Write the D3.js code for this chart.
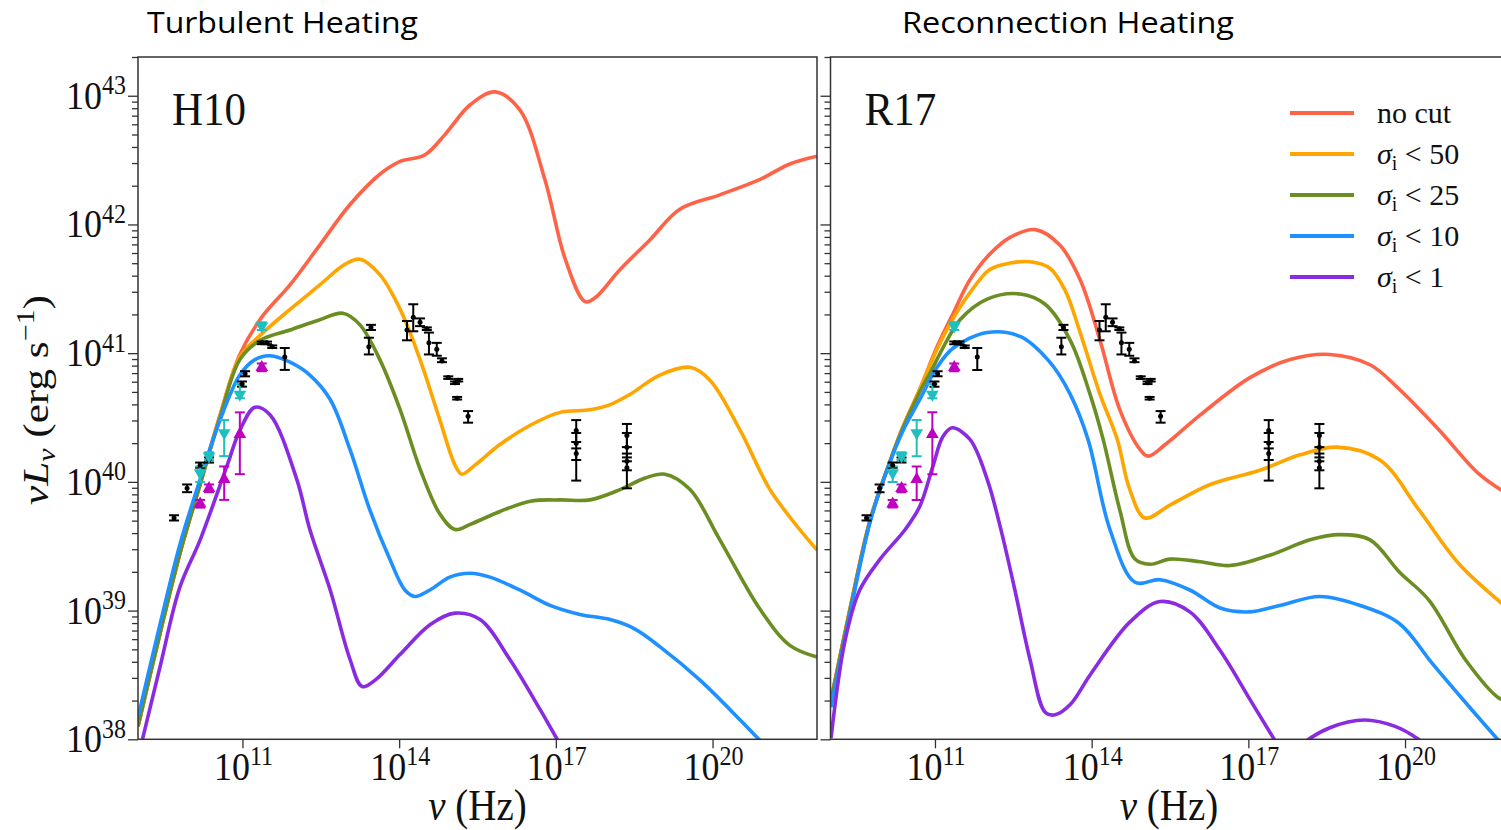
<!DOCTYPE html>
<html>
<head>
<meta charset="utf-8">
<script src="https://cdn.jsdelivr.net/npm/d3@7"></script>
<style>
  body { margin: 0; background: #fff; }
  svg { display: block; }
</style>
</head>
<body>
<script>
// values are [log10 nu (Hz), log10 nuL_nu (erg/s)]

// H10 (turbulent heating)
var h10NoCut = [[9.00,38.10],[9.42,38.82],[9.80,39.44],[10.19,39.99],[10.57,40.52],[10.95,40.99],[11.37,41.28],[11.91,41.53],[12.48,41.84],[13.06,42.155],[13.63,42.39],[14.02,42.49],[14.49,42.54],[14.88,42.70],[15.36,42.93],[15.84,43.03],[16.31,42.89],[16.79,42.35],[17.18,41.73],[17.56,41.40],[17.75,41.43],[18.23,41.65],[18.80,41.88],[19.38,42.12],[20.14,42.23],[20.91,42.35],[21.48,42.47],[22.00,42.53]];
var h10Sig50 = [[9.00,38.10],[9.42,38.82],[9.80,39.44],[10.19,39.98],[10.57,40.51],[10.95,40.97],[11.37,41.15],[11.91,41.34],[12.48,41.53],[12.96,41.69],[13.25,41.73],[13.63,41.61],[14.02,41.34],[14.40,40.95],[14.78,40.48],[15.07,40.13],[15.20,40.06],[15.45,40.13],[15.93,40.29],[16.51,40.44],[17.08,40.54],[17.65,40.56],[18.04,40.60],[18.42,40.68],[18.99,40.83],[19.57,40.89],[19.95,40.79],[20.53,40.40],[21.10,39.94],[21.67,39.63],[22.00,39.47]];
var h10Sig25 = [[9.00,38.10],[9.42,38.82],[9.80,39.44],[10.19,39.98],[10.57,40.50],[10.95,40.95],[11.34,41.10],[11.91,41.18],[12.48,41.26],[12.92,41.31],[13.25,41.22],[13.63,40.95],[14.02,40.56],[14.40,40.10],[14.78,39.75],[15.07,39.63],[15.36,39.67],[15.93,39.77],[16.51,39.85],[17.08,39.86],[17.65,39.86],[18.23,39.94],[18.71,40.03],[19.09,40.06],[19.57,39.94],[20.14,39.55],[20.91,39.01],[21.48,38.73],[22.00,38.64]];
var h10Sig10 = [[9.00,38.17],[9.42,38.89],[9.80,39.51],[10.19,40.02],[10.57,40.48],[10.95,40.83],[11.24,40.95],[11.53,40.98],[11.91,40.93],[12.29,40.83],[12.68,40.64],[13.06,40.25],[13.44,39.78],[13.82,39.40],[14.11,39.16],[14.30,39.11],[14.59,39.16],[14.97,39.26],[15.36,39.29],[15.74,39.26],[16.31,39.16],[16.89,39.04],[17.46,38.97],[18.04,38.93],[18.50,38.86],[18.99,38.72],[19.76,38.46],[20.53,38.15],[20.91,37.99],[21.29,37.84]];
var h10Sig1 = [[9.08,37.99],[9.42,38.56],[9.80,39.18],[10.19,39.55],[10.70,40.12],[10.95,40.40],[11.24,40.58],[11.53,40.52],[12.04,40.02],[12.29,39.63],[12.68,39.16],[13.06,38.62],[13.29,38.41],[13.54,38.46],[14.02,38.66],[14.59,38.89],[15.07,38.98],[15.55,38.93],[16.12,38.62],[16.70,38.23],[17.04,37.99],[17.27,37.84]];

// R17 (reconnection heating)
var r17NoCut = [[9.01,38.31],[9.37,39.01],[9.76,39.71],[10.14,40.16],[10.39,40.43],[10.71,40.72],[11.04,41.05],[11.35,41.31],[11.67,41.57],[12.05,41.77],[12.44,41.90],[12.92,41.96],[13.39,41.84],[13.78,41.57],[14.16,41.10],[14.54,40.56],[14.93,40.25],[15.08,40.20],[15.41,40.29],[16.08,40.52],[17.03,40.81],[17.80,40.95],[18.56,40.99],[19.33,40.91],[19.89,40.72],[20.66,40.40],[21.42,40.06],[21.99,39.90]];
var r17Sig50 = [[9.01,38.30],[9.37,39.00],[9.76,39.70],[10.14,40.16],[10.39,40.43],[10.71,40.72],[11.04,41.03],[11.35,41.27],[11.67,41.47],[12.05,41.65],[12.44,41.70],[12.82,41.71],[13.20,41.66],[13.49,41.49],[13.78,41.16],[14.16,40.68],[14.49,40.33],[14.73,39.94],[15.02,39.72],[15.50,39.82],[16.27,39.98],[17.22,40.09],[17.99,40.21],[18.70,40.27],[19.52,40.17],[20.27,39.78],[21.04,39.36],[21.99,39.01]];
var r17Sig25 = [[9.01,38.30],[9.37,39.00],[9.76,39.70],[10.14,40.16],[10.39,40.42],[10.71,40.70],[10.91,40.85],[11.23,41.10],[11.48,41.26],[12.00,41.42],[12.63,41.46],[13.11,41.38],[13.59,41.10],[13.97,40.68],[14.22,40.33],[14.54,39.78],[14.83,39.40],[15.12,39.36],[15.50,39.40],[16.08,39.38],[16.65,39.35],[17.41,39.43],[18.18,39.55],[18.75,39.59],[19.33,39.55],[19.89,39.30],[20.46,39.08],[21.17,38.61],[21.80,38.32],[21.99,38.30]];
var r17Sig10 = [[9.01,38.25],[9.37,38.97],[9.76,39.69],[10.08,40.09],[10.39,40.40],[10.71,40.64],[11.04,40.89],[11.35,41.04],[12.00,41.16],[12.63,41.13],[13.20,40.93],[13.59,40.68],[13.93,40.33],[14.35,39.63],[14.83,39.22],[15.31,39.24],[15.88,39.16],[16.46,39.02],[17.03,38.99],[17.60,39.04],[18.37,39.11],[19.14,39.04],[19.89,38.90],[20.52,38.59],[21.17,38.28],[21.75,38.01],[21.99,37.90]];
var r17Sig1 = [[9.01,38.01],[9.28,38.77],[9.56,39.16],[9.95,39.40],[10.43,39.63],[10.71,39.81],[10.96,40.12],[11.15,40.35],[11.33,40.42],[11.67,40.33],[12.00,40.02],[12.25,39.65],[12.53,39.16],[12.82,38.62],[13.11,38.21],[13.30,38.19],[13.59,38.27],[13.97,38.50],[14.73,38.91],[15.31,39.07],[15.88,38.99],[16.46,38.69],[17.03,38.31],[17.51,37.99],[17.74,37.84],[17.99,37.95],[18.56,38.09],[19.23,38.15],[19.81,38.10],[20.22,38.01],[20.46,37.93]];

// observed points: [log nu, log nuLnu, log lower, log upper]
var obsBlack = [[9.69,39.72,39.70,39.74],[9.94,39.95,39.92,39.98],[10.19,40.13,40.11,40.15],[10.36,40.17,40.15,40.19],
  [10.99,40.76,40.74,40.78],[11.05,40.84,40.82,40.86],[11.37,41.08,41.07,41.09],[11.47,41.08,41.07,41.09],[11.57,41.05,41.04,41.06],
  [11.81,40.97,40.87,41.04],[13.46,41.20,41.18,41.22],[13.42,41.05,40.99,41.12],[14.15,41.18,41.10,41.25],[14.27,41.28,41.17,41.38],
  [14.40,41.24,41.21,41.27],[14.53,41.19,41.18,41.20],[14.57,41.08,40.99,41.16],[14.72,41.03,40.98,41.08],[14.82,40.94,40.93,40.96],
  [14.94,40.81,40.80,40.82],[15.07,40.77,40.76,40.78],[15.13,40.79,40.78,40.80],[15.11,40.65,40.64,40.66],[15.32,40.51,40.46,40.55],
  [17.39,40.40,40.31,40.48],[17.39,40.30,40.01,40.38],[17.39,40.22,40.17,40.26],
  [18.36,40.36,40.27,40.45],[18.36,40.27,40.19,40.38],[18.36,40.16,40.09,40.22],[18.36,40.11,39.95,40.16]];
var obsCyan = [[10.19,40.07,40.00,40.12],[10.36,40.20,40.17,40.23],[10.65,40.38,40.20,40.48],[10.95,40.68,40.65,40.76],[11.37,41.21,41.18,41.24]];
var obsMagenta = [[10.19,39.83,39.80,39.86],[10.36,39.95,39.92,39.98],[10.65,40.02,39.86,40.12],[10.95,40.37,40.06,40.54],[11.37,40.89,40.86,40.92]];

var xTickExps = [11, 14, 17, 20];
var yTickExps = [38, 39, 40, 41, 42, 43];
var legendLabels = ["no cut", "50", "25", "10", "1"];
var seriesColors = ["#ff6347", "#ffa500", "#6b8e23", "#1e90ff", "#8a2be2"];

var W = 1501, H = 830;
var yTop = 57, yBot = 739.3;

var svg = d3.select("body").append("svg")
    .attr("width", W)
    .attr("height", H)
    .style("font-family", "'Liberation Serif', 'DejaVu Serif', serif");

var panels = [
    { x0: 138, x1: 817, title: "Turbulent Heating", titleX: 147, titleW: 271, tag: "H10",
      curves: [h10NoCut, h10Sig50, h10Sig25, h10Sig10, h10Sig1], labels: true },
    { x0: 830.5, x1: 1509.5, title: "Reconnection Heating", titleX: 902, titleW: 332, tag: "R17",
      curves: [r17NoCut, r17Sig50, r17Sig25, r17Sig10, r17Sig1], labels: false }
];

// "10" with a raised exponent, stretched a bit taller like the original
function powerLabel(g, px, py, exp, anchor) {
    var t = g.append("text")
        .attr("transform", "translate(" + px + "," + py + ") scale(1,1.12)")
        .attr("text-anchor", anchor)
        .attr("font-size", 36)
        .attr("fill", "#111");
    t.append("tspan").text("10");
    t.append("tspan").attr("font-size", 24).attr("dy", -13).text(exp);
}

panels.forEach(function (p) {
    var x = d3.scaleLog().domain([1e9, 1e22]).range([p.x0, p.x1]);
    var y = d3.scaleLog().domain([1e38, 2e43]).range([yBot, yTop]);

    var clipId = "clip" + p.tag;
    svg.append("clipPath").attr("id", clipId)
        .append("rect")
        .attr("x", p.x0).attr("y", yTop)
        .attr("width", p.x1 - p.x0).attr("height", yBot - yTop);

    var plot = svg.append("g").attr("clip-path", "url(#" + clipId + ")");

    var line = d3.line()
        .x(function (d) { return x(Math.pow(10, d[0])); })
        .y(function (d) { return y(Math.pow(10, d[1])); })
        .curve(d3.curveCatmullRom.alpha(0.5));

    p.curves.forEach(function (c, i) {
        plot.append("path")
            .attr("d", line(c))
            .attr("fill", "none")
            .attr("stroke", seriesColors[i])
            .attr("stroke-width", 3.6)
            .attr("stroke-linejoin", "round");
    });

    // error bars + markers
    function errBars(data, color) {
        var gg = plot.append("g").attr("stroke", color).attr("stroke-width", 2);
        data.forEach(function (d) {
            var cx = x(Math.pow(10, d[0]));
            var lo = y(Math.pow(10, d[2])), hi = y(Math.pow(10, d[3]));
            gg.append("line").attr("x1", cx).attr("x2", cx).attr("y1", lo).attr("y2", hi);
            gg.append("line").attr("x1", cx - 5).attr("x2", cx + 5).attr("y1", lo).attr("y2", lo);
            gg.append("line").attr("x1", cx - 5).attr("x2", cx + 5).attr("y1", hi).attr("y2", hi);
        });
    }
    errBars(obsBlack, "#000");
    errBars(obsCyan, "#1fbfbf");
    errBars(obsMagenta, "#c000c0");

    plot.selectAll(".dotB").data(obsBlack).enter().append("circle")
        .attr("cx", function (d) { return x(Math.pow(10, d[0])); })
        .attr("cy", function (d) { return y(Math.pow(10, d[1])); })
        .attr("r", 2.5).attr("fill", "#000");

    var tri = d3.symbol().type(d3.symbolTriangle).size(70);
    plot.selectAll(".triC").data(obsCyan).enter().append("path")
        .attr("d", tri)
        .attr("transform", function (d) {
            return "translate(" + x(Math.pow(10, d[0])) + "," + y(Math.pow(10, d[1])) + ") rotate(180)";
        })
        .attr("fill", "#1fbfbf");
    plot.selectAll(".triM").data(obsMagenta).enter().append("path")
        .attr("d", tri)
        .attr("transform", function (d) {
            return "translate(" + x(Math.pow(10, d[0])) + "," + y(Math.pow(10, d[1])) + ")";
        })
        .attr("fill", "#c000c0");

    // frame
    svg.append("rect")
        .attr("x", p.x0).attr("y", yTop)
        .attr("width", p.x1 - p.x0).attr("height", yBot - yTop)
        .attr("fill", "none").attr("stroke", "#333").attr("stroke-width", 1.5);

    // y ticks (major + minor)
    var majors = yTickExps.map(function (e) { return Math.pow(10, e); });
    var minors = [];
    yTickExps.forEach(function (e) {
        for (var k = 2; k <= 9; k++) {
            var v = k * Math.pow(10, e);
            if (v <= 2e43) minors.push(v);
        }
    });
    var yAxisMaj = svg.append("g").attr("transform", "translate(" + p.x0 + ",0)")
        .call(d3.axisLeft(y).tickValues(majors).tickSize(10).tickFormat(""));
    var yAxisMin = svg.append("g").attr("transform", "translate(" + p.x0 + ",0)")
        .call(d3.axisLeft(y).tickValues(minors).tickSize(6).tickFormat(""));
    [yAxisMaj, yAxisMin].forEach(function (a) {
        a.select(".domain").remove();
        a.selectAll("line").attr("stroke", "#333").attr("stroke-width", 1.3);
    });

    var xAxis = svg.append("g").attr("transform", "translate(0," + yBot + ")")
        .call(d3.axisBottom(x).tickValues(xTickExps.map(function (e) { return Math.pow(10, e); }))
            .tickSize(9).tickFormat(""));
    xAxis.select(".domain").remove();
    xAxis.selectAll("line").attr("stroke", "#333").attr("stroke-width", 1.3);

    xTickExps.forEach(function (e) {
        powerLabel(svg, x(Math.pow(10, e)) + 1, 780, e, "middle");
    });
    if (p.labels) {
        yTickExps.forEach(function (e) {
            powerLabel(svg, 126, y(Math.pow(10, e)) + 13, e, "end");
        });
    }

    // panel tag
    svg.append("text")
        .attr("transform", "translate(" + (p.x0 + 34) + ",125) scale(1,1.1)")
        .attr("font-size", 43)
        .attr("fill", "#111")
        .text(p.tag);

    // title
    svg.append("text")
        .attr("x", p.titleX).attr("y", 33)
        .attr("font-family", "'Open Sans', sans-serif")
        .attr("font-size", 30)
        .attr("fill", "#000")
        .attr("textLength", p.titleW)
        .attr("lengthAdjust", "spacingAndGlyphs")
        .text(p.title);

    // x label
    var xl = svg.append("text")
        .attr("transform", "translate(" + ((p.x0 + p.x1) / 2 + (p.labels ? 0 : -1)) + ",820) scale(1,1.12)")
        .attr("text-anchor", "middle")
        .attr("font-size", 39)
        .attr("fill", "#111");
    xl.append("tspan").attr("font-style", "italic").text("ν");
    xl.append("tspan").text(" (Hz)");
});

// y label
var yl = svg.append("text")
    .attr("transform", "translate(48,400) rotate(-90) scale(1.2,1)")
    .attr("text-anchor", "middle")
    .attr("font-size", 36)
    .attr("fill", "#111");
yl.append("tspan").attr("font-style", "italic").text("νL");
yl.append("tspan").attr("font-style", "italic").attr("font-size", 25).attr("dy", 7).text("ν");
yl.append("tspan").attr("dy", -7).text(" (erg s");
yl.append("tspan").attr("font-size", 25).attr("dy", -14).text("−1");
yl.append("tspan").attr("dy", 14).text(")");

// legend (right panel)
var legend = svg.append("g").attr("transform", "translate(1290,113)");
legendLabels.forEach(function (lab, i) {
    var row = legend.append("g").attr("transform", "translate(0," + i * 41 + ")");
    row.append("line").attr("x1", 0).attr("x2", 64).attr("y1", 0).attr("y2", 0)
        .attr("stroke", seriesColors[i]).attr("stroke-width", 4);
    var t = row.append("text").attr("x", 87).attr("y", 10).attr("font-size", 30).attr("fill", "#111");
    if (i === 0) {
        t.text(lab);
    } else {
        t.append("tspan").attr("font-style", "italic").text("σ");
        t.append("tspan").attr("font-size", 20).attr("dy", 6).text("i");
        t.append("tspan").attr("dy", -6).text(" < " + lab);
    }
});
</script>
</body>
</html>
